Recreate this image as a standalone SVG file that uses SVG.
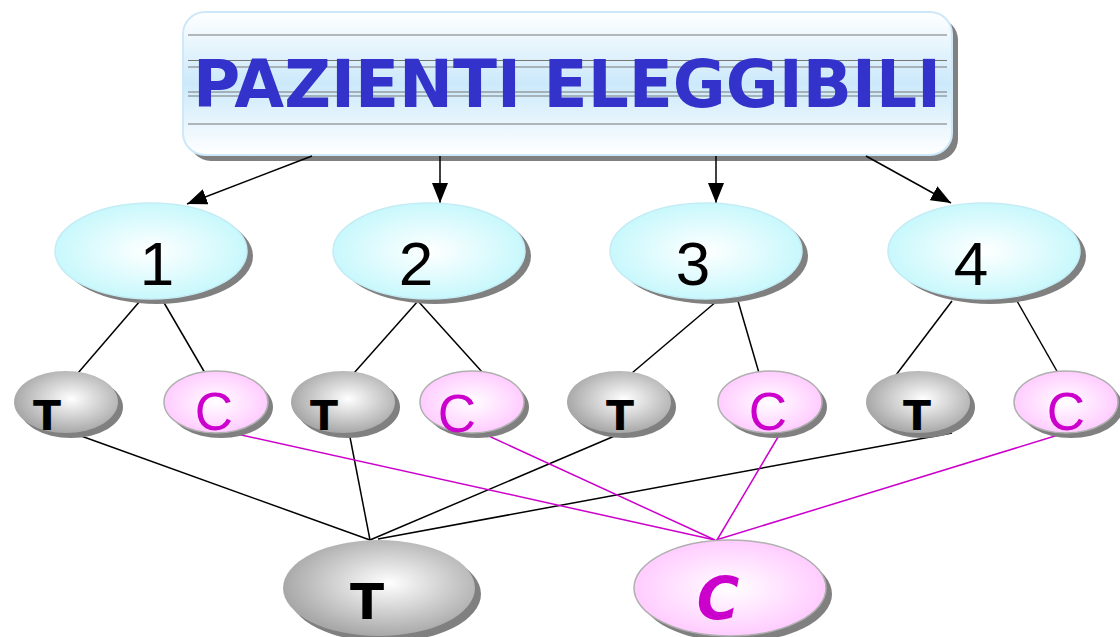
<svg xmlns="http://www.w3.org/2000/svg" width="1120" height="637" viewBox="0 0 1120 637">
<style>
.shadow{fill:#808080}
.lvl{fill:url(#gBlue);stroke:#c4ecf4;stroke-width:1.5}
.tn{fill:url(#gGray);stroke:none}
.cn{fill:url(#gPink);stroke:#b0b0b0;stroke-width:1.5}
.num{font-family:"Liberation Sans",Arial,sans-serif;font-size:62px;fill:#000;text-anchor:middle}
.tl{font-family:"DejaVu Sans",sans-serif;font-weight:bold;fill:#000;text-anchor:middle}
.cl{font-family:"Liberation Sans",Arial,sans-serif;fill:#cc00cc;text-anchor:middle}
.blk{stroke:#000;stroke-width:1.5;fill:none}
.mag{stroke:#cc00cc;stroke-width:1.5;fill:none}
.rule{stroke:#777;stroke-width:1.2}
</style>
<defs>
<linearGradient id="gTitle" x1="0" y1="0" x2="0" y2="1">
<stop offset="0" stop-color="#ffffff"/>
<stop offset="0.5" stop-color="#cce9fb"/>
<stop offset="1" stop-color="#ffffff"/>
</linearGradient>
<radialGradient id="gBlue" cx="0.5" cy="0.5" r="0.5">
<stop offset="0" stop-color="#ffffff"/>
<stop offset="1" stop-color="#c8f8fc"/>
</radialGradient>
<radialGradient id="gGray" cx="0.55" cy="0.45" r="0.55">
<stop offset="0" stop-color="#ffffff"/>
<stop offset="1" stop-color="#a8a8a8"/>
</radialGradient>
<radialGradient id="gPink" cx="0.5" cy="0.5" r="0.5">
<stop offset="0" stop-color="#ffffff"/>
<stop offset="1" stop-color="#ffccff"/>
</radialGradient>
<marker id="arrBig" viewBox="0 0 10 10" refX="10" refY="5" markerWidth="20" markerHeight="16" orient="auto" markerUnits="userSpaceOnUse" preserveAspectRatio="none">
<path d="M0,0 L10,5 L0,10 z" fill="#000"/>
</marker>
</defs>

<g id="title">
<rect x="189" y="18" width="769" height="143" rx="22" class="shadow"/>
<rect x="183" y="12" width="769" height="143" rx="22" fill="url(#gTitle)" stroke="#cde8f8" stroke-width="2"/>
<line x1="188" y1="35" x2="947" y2="35" class="rule"/>
<line x1="188" y1="60.5" x2="947" y2="60.5" class="rule"/>
<line x1="188" y1="67" x2="947" y2="67" class="rule"/>
<line x1="188" y1="92" x2="947" y2="92" class="rule"/>
<line x1="188" y1="96" x2="947" y2="96" class="rule"/>
<line x1="188" y1="124" x2="947" y2="124" class="rule"/>
<text x="567" y="107" font-family="'DejaVu Sans',sans-serif" font-weight="bold" font-size="65" fill="#3333cc" text-anchor="middle" textLength="748" lengthAdjust="spacingAndGlyphs">PAZIENTI ELEGGIBILI</text>
</g>

<g id="connectors">
<line x1="312" y1="156" x2="187" y2="204" class="blk" marker-end="url(#arrBig)"/>
<line x1="440" y1="156" x2="440" y2="203" class="blk" marker-end="url(#arrBig)"/>
<line x1="716" y1="156" x2="716" y2="203" class="blk" marker-end="url(#arrBig)"/>
<line x1="866" y1="156" x2="951" y2="203" class="blk" marker-end="url(#arrBig)"/>

<line x1="140" y1="301" x2="78" y2="373" class="blk"/>
<line x1="163" y1="301" x2="205" y2="373" class="blk"/>
<line x1="418" y1="301" x2="354" y2="373" class="blk"/>
<line x1="418" y1="301" x2="483" y2="373" class="blk"/>
<line x1="717" y1="301" x2="632" y2="373" class="blk"/>
<line x1="738" y1="301" x2="759" y2="373" class="blk"/>
<line x1="952" y1="301" x2="896" y2="375" class="blk"/>
<line x1="1017" y1="301" x2="1058" y2="373" class="blk"/>

<line x1="70" y1="432" x2="370" y2="540" class="blk"/>
<line x1="349" y1="432" x2="370" y2="540" class="blk"/>
<line x1="624" y1="432" x2="370" y2="540" class="blk"/>
<line x1="952" y1="433" x2="378" y2="539" class="blk"/>

<line x1="228" y1="432" x2="715" y2="540" class="mag"/>
<line x1="480" y1="432" x2="715" y2="540" class="mag"/>
<line x1="781" y1="432" x2="717" y2="540" class="mag"/>
<line x1="1068" y1="432" x2="716" y2="540" class="mag"/>
</g>

<g id="group1">
<ellipse cx="157" cy="256" rx="96" ry="48" class="shadow"/>
<ellipse cx="151" cy="251" rx="96" ry="48" class="lvl"/>
<text x="157" y="285" class="num">1</text>
</g>
<g id="group2">
<ellipse cx="435" cy="256" rx="96" ry="48" class="shadow"/>
<ellipse cx="429" cy="251" rx="96" ry="48" class="lvl"/>
<text x="416" y="285" class="num">2</text>
</g>
<g id="group3">
<ellipse cx="712" cy="256" rx="96" ry="48" class="shadow"/>
<ellipse cx="706" cy="251" rx="96" ry="48" class="lvl"/>
<text x="693" y="285" class="num">3</text>
</g>
<g id="group4">
<ellipse cx="990" cy="256" rx="96" ry="48" class="shadow"/>
<ellipse cx="984" cy="251" rx="96" ry="48" class="lvl"/>
<text x="971" y="285" class="num">4</text>
</g>

<g id="t1">
<ellipse cx="71" cy="407" rx="52" ry="31" class="shadow"/>
<ellipse cx="66" cy="402" rx="52" ry="31" class="tn"/>
<text x="47" y="430" class="tl" font-size="41">T</text>
</g>
<g id="c1">
<ellipse cx="221" cy="407" rx="52" ry="31" class="shadow"/>
<ellipse cx="216" cy="402" rx="52" ry="31" class="cn"/>
<text x="214" y="430" class="cl" font-size="53">C</text>
</g>
<g id="t2">
<ellipse cx="348" cy="407" rx="52" ry="31" class="shadow"/>
<ellipse cx="343" cy="402" rx="52" ry="31" class="tn"/>
<text x="324" y="430" class="tl" font-size="41">T</text>
</g>
<g id="c2">
<ellipse cx="477" cy="407" rx="52" ry="31" class="shadow"/>
<ellipse cx="472" cy="402" rx="52" ry="31" class="cn"/>
<text x="457" y="432" class="cl" font-size="53">C</text>
</g>
<g id="t3">
<ellipse cx="624" cy="407" rx="52" ry="31" class="shadow"/>
<ellipse cx="619" cy="402" rx="52" ry="31" class="tn"/>
<text x="620" y="430" class="tl" font-size="41">T</text>
</g>
<g id="c3">
<ellipse cx="775" cy="407" rx="52" ry="31" class="shadow"/>
<ellipse cx="770" cy="402" rx="52" ry="31" class="cn"/>
<text x="768" y="430" class="cl" font-size="53">C</text>
</g>
<g id="t4">
<ellipse cx="923" cy="407" rx="52" ry="31" class="shadow"/>
<ellipse cx="918" cy="402" rx="52" ry="31" class="tn"/>
<text x="917" y="430" class="tl" font-size="41">T</text>
</g>
<g id="c4">
<ellipse cx="1071" cy="407" rx="52" ry="31" class="shadow"/>
<ellipse cx="1066" cy="402" rx="52" ry="31" class="cn"/>
<text x="1066" y="430" class="cl" font-size="53">C</text>
</g>

<g id="tFinal">
<ellipse cx="385" cy="594" rx="96" ry="48" class="shadow"/>
<ellipse cx="379" cy="588" rx="96" ry="48" class="tn"/>
<text x="367" y="619" class="tl" font-size="50">T</text>
</g>
<g id="cFinal">
<ellipse cx="736" cy="594" rx="96" ry="48" class="shadow"/>
<ellipse cx="730" cy="588" rx="96" ry="48" class="cn"/>
<text x="718" y="619" class="tl" font-size="58" font-style="italic" style="fill:#cc00cc">C</text>
</g>
</svg>
